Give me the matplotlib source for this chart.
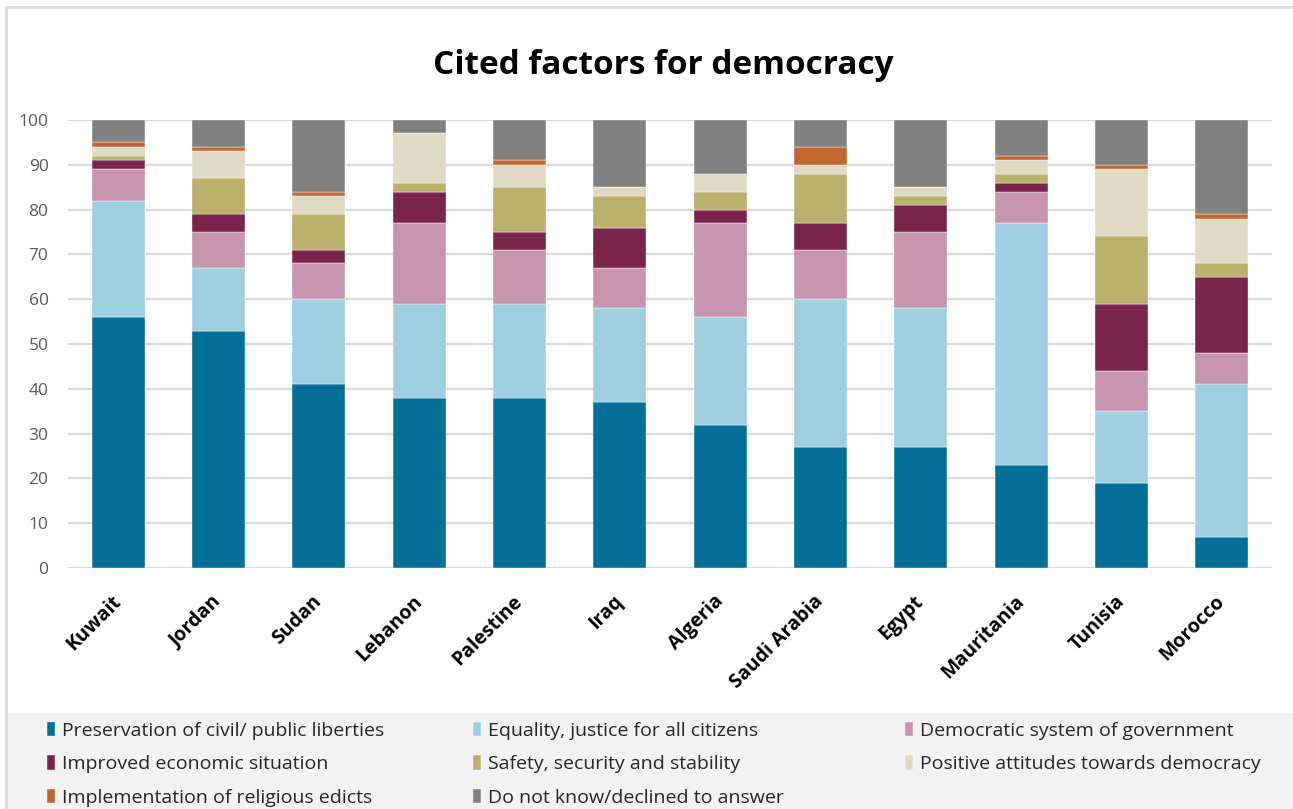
import numpy as np
import matplotlib.pyplot as plt
from matplotlib.patches import Rectangle

plt.rcParams['font.family'] = ['Open Sans', 'DejaVu Sans']

countries = ['Kuwait', 'Jordan', 'Sudan', 'Lebanon', 'Palestine', 'Iraq',
             'Algeria', 'Saudi Arabia', 'Egypt', 'Mauritania', 'Tunisia', 'Morocco']

# share of respondents (%) per factor, one value per country
liberties  = [56, 53, 41, 38, 38, 37, 32, 27, 27, 23, 19, 7]
equality   = [26, 14, 19, 21, 21, 21, 24, 33, 31, 54, 16, 34]
democratic = [7, 8, 8, 18, 12, 9, 21, 11, 17, 7, 9, 7]
economic   = [2, 4, 3, 7, 4, 9, 3, 6, 6, 2, 15, 17]
safety     = [1, 8, 8, 2, 10, 7, 4, 11, 2, 2, 15, 3]
positive   = [2, 6, 4, 11, 5, 2, 4, 2, 2, 3, 15, 10]
religious  = [1, 1, 1, 0, 1, 0, 0, 4, 0, 1, 1, 1]
dont_know  = [5, 6, 16, 3, 9, 15, 12, 6, 15, 8, 10, 21]

labels = ['Preservation of civil/ public liberties', 'Equality, justice for all citizens',
          'Democratic system of government', 'Improved economic situation',
          'Safety, security and stability', 'Positive attitudes towards democracy',
          'Implementation of religious edicts', 'Do not know/declined to answer']
colors = ['#04709a', '#9dcfe0', '#c794ae', '#7b244b',
          '#bbb06b', '#dedac4', '#c3662f', '#808080']
series = [liberties, equality, democratic, economic, safety, positive, religious, dont_know]

fig = plt.figure(figsize=(12.93, 8.09), dpi=100)
ax = fig.add_axes([68 / 1293, 1 - 568 / 809, 1204 / 1293, 448 / 809])

x = np.arange(len(countries))
bottom = np.zeros(len(countries))
handles = []
for vals, lab, col in zip(series, labels, colors):
    b = ax.bar(x, vals, 0.53, bottom=bottom, color=col, label=lab,
               edgecolor='white', linewidth=0.3, zorder=3)
    handles.append(b)
    bottom += np.array(vals)

ax.set_xlim(-0.5, len(countries) - 0.5)
ax.set_ylim(0, 100)
ax.set_yticks(range(0, 101, 10))
ax.yaxis.grid(True, color='#d9d9d9', linewidth=1.6, zorder=0)
for s in ax.spines.values():
    s.set_visible(False)
ax.tick_params(axis='both', length=0)
ax.tick_params(axis='y', labelsize=12.5, labelcolor='#595959', pad=14)
ax.set_xticks(x)
ax.set_xticklabels(countries, rotation=45, ha='right', va='center', rotation_mode='anchor',
                   fontsize=14, fontweight='bold')
ax.tick_params(axis='x', pad=22)

fig.text(0.513, 1 - 65 / 809, 'Cited factors for democracy', ha='center', va='center',
         fontsize=24, fontweight='bold')

# outer frame and grey legend band
fig.add_artist(Rectangle((6 / 1293, -0.01), 1.1, 1 - 7 / 809 + 0.01, transform=fig.transFigure,
                         fill=False, edgecolor='#d9d9d9', linewidth=2))
fig.add_artist(Rectangle((8 / 1293, 0), 1, (809 - 713) / 809, transform=fig.transFigure,
                         facecolor='#f2f2f2', edgecolor='none', zorder=0))

cols = [[0, 3, 6], [1, 4, 7], [2, 5]]
xpos = [37 / 1293, 463 / 1293, 895 / 1293]
for idx, xp in zip(cols, xpos):
    fig.legend([handles[i] for i in idx], [labels[i] for i in idx],
               loc='upper left', bbox_to_anchor=(xp, 1 - 712 / 809), frameon=False,
               fontsize=14, handlelength=0.45, handleheight=0.75, handletextpad=0.35,
               labelspacing=0.8, borderpad=0, labelcolor='#262626')

fig.savefig('out.png', dpi=100)
